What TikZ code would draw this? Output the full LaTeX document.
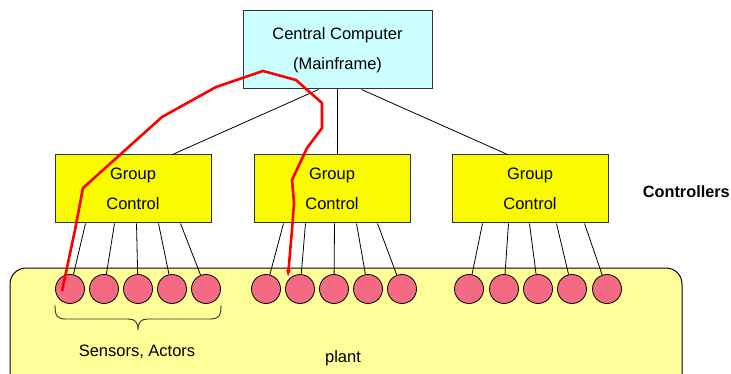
\documentclass[tikz,border=0pt]{standalone}
\usepackage{fontspec}
\setmainfont{Liberation Sans}
\usetikzlibrary{calc,arrows.meta}
\definecolor{ccfill}{HTML}{CCFFFF}
\definecolor{gcfill}{HTML}{FAFA00}
\definecolor{plantfill}{HTML}{FFFF99}
\definecolor{sensfill}{HTML}{F46A82}
\definecolor{edge}{HTML}{333333}
\tikzset{
  txt/.style={font=\fontsize{16.5}{30}\selectfont},
  cbox/.style={draw=edge,line width=1pt,fill=ccfill,minimum width=189pt,minimum height=78pt,inner sep=0pt,align=center,txt},
  gbox/.style={draw=edge,line width=1pt,fill=gcfill,minimum width=156pt,minimum height=68pt,inner sep=0pt,align=center,txt},
  sens/.style={circle,draw=black,line width=0.8pt,fill=sensfill,minimum size=29pt,inner sep=0pt},
  wire/.style={draw=black,line width=0.8pt},
  redpath/.style={draw=red,line width=2.6pt,line join=round}
}
\begin{document}
\begin{tikzpicture}[x=1pt,y=-1pt]
\useasboundingbox (0,0) rectangle (731,374);
% plant
\draw[line width=1pt,fill=plantfill,rounded corners=16pt] (10,268) rectangle (682,392);
\node[txt,anchor=center] (plant) at (343,358) {plant};
% central
\node[cbox] (cc) at (337.5,50) {Central Computer\\(Mainframe)};
% groups
\node[gbox] (g1) at (133,189) {Group\\Control};
\node[gbox] (g2) at (332,189) {Group\\Control};
\node[gbox] (g3) at (530,189) {Group\\Control};
\node[anchor=east,inner sep=0pt,font=\fontsize{16.3}{20}\selectfont\bfseries] (ctrl) at (730,192) {Controllers};
% links central -> groups
\draw[wire] ($(cc.south west)+(76,0)$) -- ($(g1.north west)+(118,0)$);
\draw[wire] ($(cc.south west)+(95,0)$) -- ($(g2.north west)+(84,0)$);
\draw[wire] ($(cc.south west)+(119,0)$) -- ($(g3.north west)+(56,0)$);
% sensors
\foreach \i/\x in {1/70,2/104,3/138,4/172,5/206,6/266,7/300,8/334,9/368,10/402,11/469,12/504,13/538,14/572,15/607}{
  \node[sens] (c\i) at (\x,289) {};
}
% links groups -> sensors
\foreach \i/\o in {1/31,2/60,3/82,4/104,5/126}{
  \draw[wire] ($(g1.south west)+(\o,0)$) -- (c\i);
}
\foreach \i/\o in {6/30,7/52,8/81,9/103,10/124}{
  \draw[wire] ($(g2.south west)+(\o,0)$) -- (c\i);
}
\foreach \i/\o in {11/31,12/57,13/78,14/105,15/133}{
  \draw[wire] ($(g3.south west)+(\o,0)$) -- (c\i);
}
% brace
\draw[line width=0.9pt,draw=edge] (55,305) .. controls (55,316) and (57,319) .. (66,319)
  -- (128,319) .. controls (135,319) and (138,322) .. (138,330)
  .. controls (138,322) and (141,319) .. (148,319)
  -- (210,319) .. controls (219,319) and (221,316) .. (221,305);
\node[txt] (sa) at (137,352) {Sensors, Actors};
% red path
\draw[redpath,-{Stealth[length=6pt,width=5pt]}] ($(c1)+(-8,2)$) -- (75,230) -- (83,188) -- (162,117) -- (216,87)
  -- (263,71) -- (296,80) -- (322,103) -- (322,128) -- (307,148) -- (292,180)
  -- (294,203) -- (292,230) -- ($(c7)+(-12,-13)$);
\end{tikzpicture}
\end{document}
